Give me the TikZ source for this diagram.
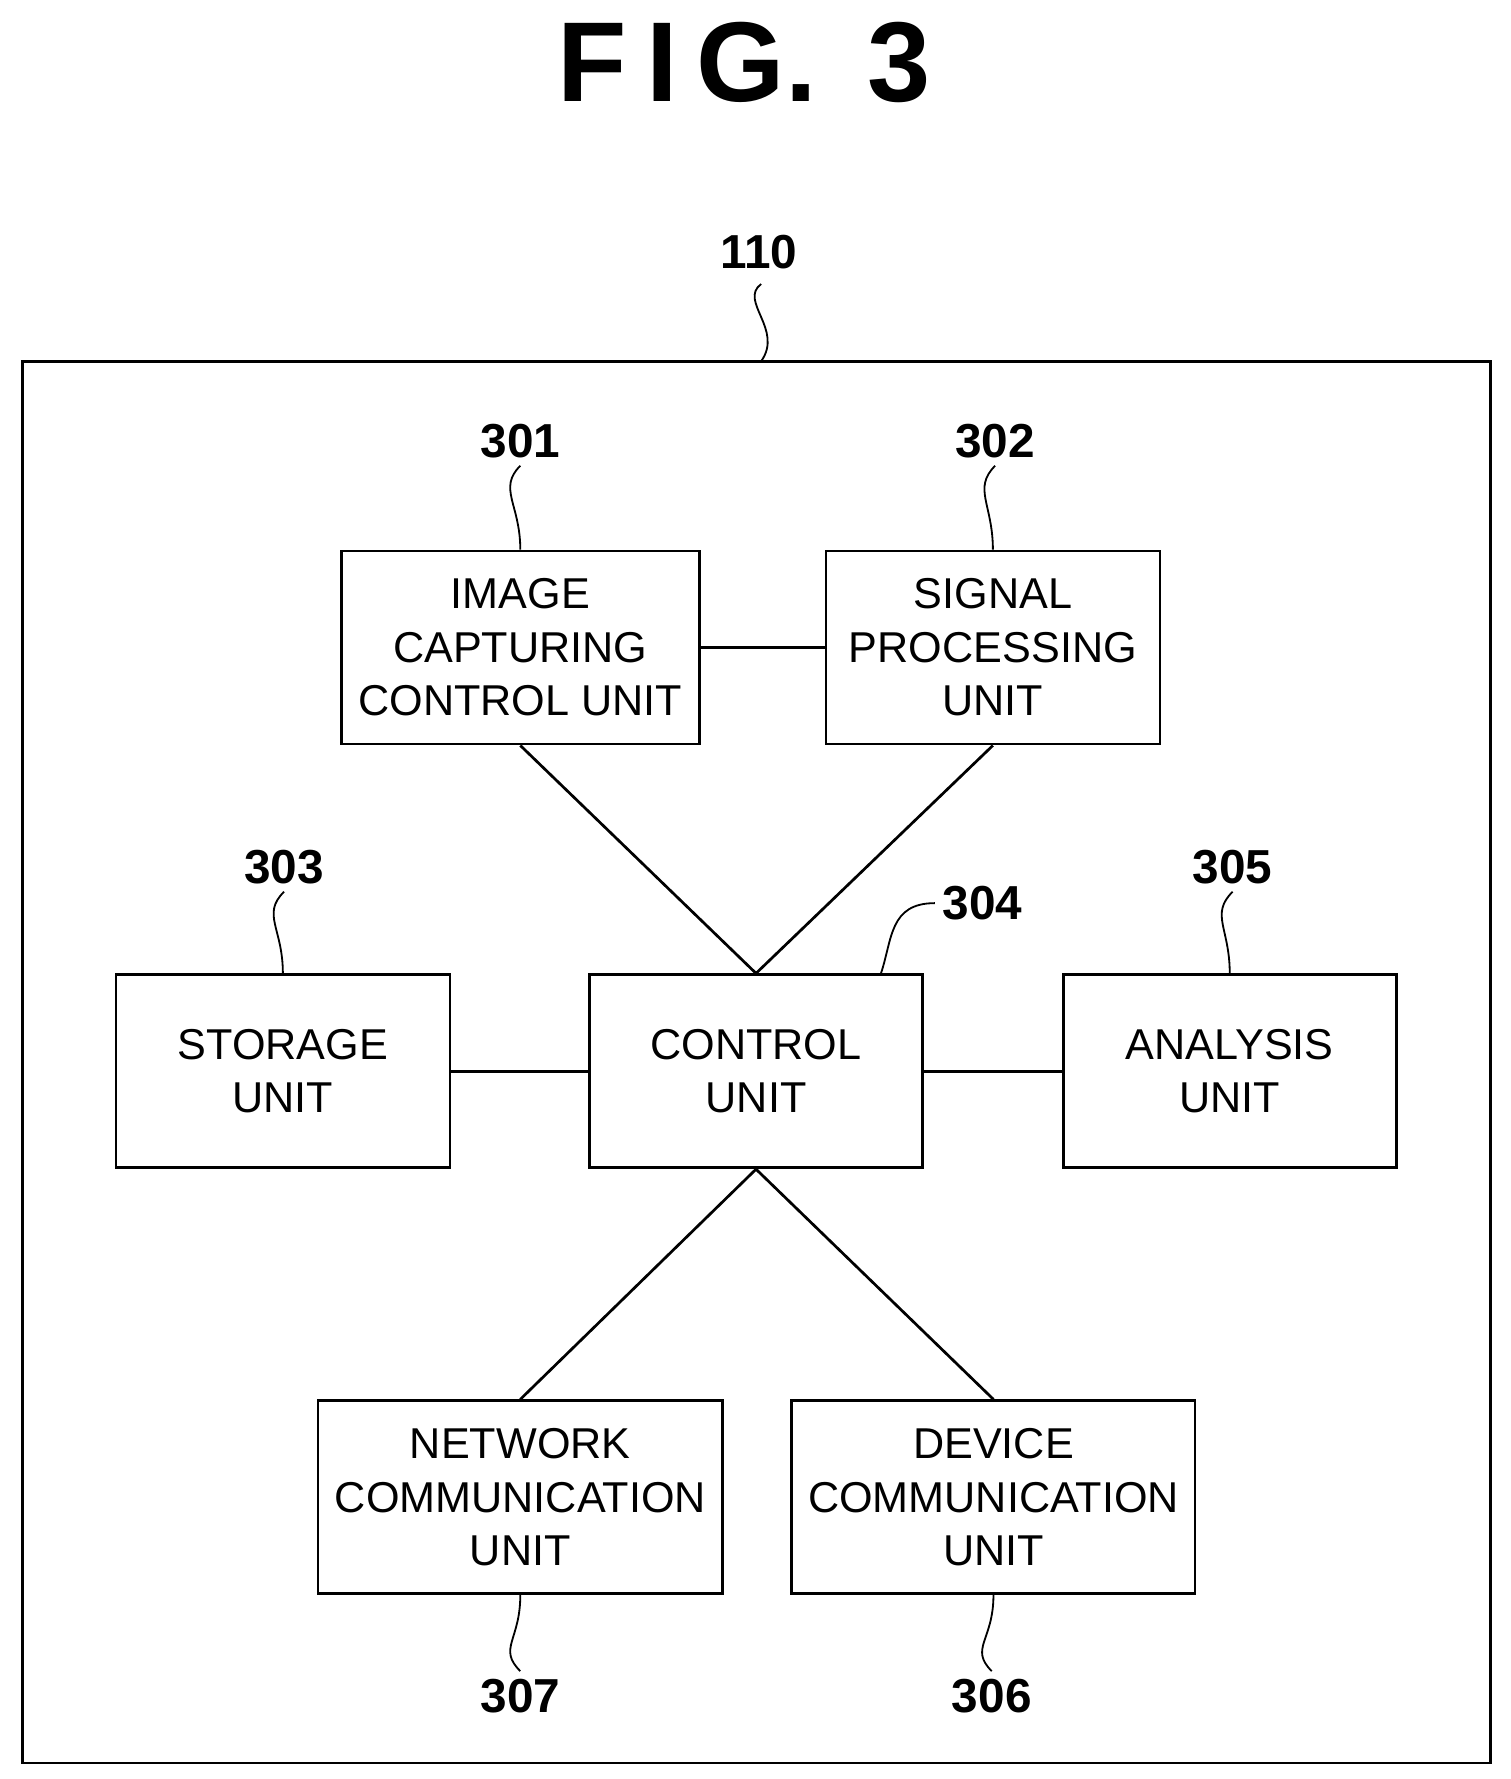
\documentclass[tikz,border=0pt]{standalone}
\usepackage{fontspec}
\setmainfont{Liberation Sans}
\begin{document}
\begin{tikzpicture}[
    x=0.5pt, y=-0.5pt,
    unit/.style={draw, line width=1.2pt, inner sep=0pt, align=center,
        font=\fontsize{19}{23.5}\selectfont},
    ref/.style={font=\bfseries\fontsize{21}{24}\selectfont},
    link/.style={line width=1.2pt},
    wave/.style={line width=0.8pt}]
    \useasboundingbox (0,0) rectangle (1330,1566);
    \node[font=\bfseries\fontsize{50}{56}\selectfont] (title) at (655,55) {F\,I\,G.\;\,3};
    % outer device
    \draw[line width=1.2pt] (20,318) rectangle (1312,1552);
    \node[ref] (r110) at (668,222) {110};
    \draw[wave] (670,250) .. controls (650,265) and (690,290) .. (670,318);
    % units
    \node[unit, minimum width=157.5pt, minimum height=85pt] (icu) at (458,570) {IMAGE\\CAPTURING\\CONTROL UNIT};
    \node[unit, minimum width=147pt, minimum height=85pt] (spu) at (874,570) {SIGNAL\\PROCESSING\\UNIT};
    \node[unit, minimum width=147pt, minimum height=85pt] (stu) at (249,943) {STORAGE\\UNIT};
    \node[unit, minimum width=146.5pt, minimum height=85pt] (ctu) at (665.5,943) {CONTROL\\UNIT};
    \node[unit, minimum width=146.5pt, minimum height=85pt] (anu) at (1082.5,943) {ANALYSIS\\UNIT};
    \node[unit, minimum width=178pt, minimum height=85pt] (ncu) at (458,1318) {NETWORK\\COMMUNICATION\\UNIT};
    \node[unit, minimum width=177.5pt, minimum height=85pt] (dcu) at (874.5,1318) {DEVICE\\COMMUNICATION\\UNIT};
    % reference numerals
    \node[ref] (r301) at (458,388) {301};
    \node[ref] (r302) at (876,388) {302};
    \node[ref] (r303) at (250,763) {303};
    \node[ref] (r304) at (865,795) {304};
    \node[ref] (r305) at (1085,763) {305};
    \node[ref] (r307) at (458,1493) {307};
    \node[ref] (r306) at (873,1493) {306};
    \draw[wave] (r301.south) .. controls +(-20,20) and +(0,-40) .. (icu.north);
    \draw[wave] (r302.south) .. controls +(-20,20) and +(0,-40) .. (spu.north);
    \draw[wave] (r303.south) .. controls +(-20,20) and +(0,-40) .. (stu.north);
    \draw[wave] (r305.south) .. controls +(-20,20) and +(0,-40) .. (anu.north);
    \draw[wave] (r304.west) .. controls +(-40,0) and +(10,-30) .. ([xshift=55pt]ctu.north);
    \draw[wave] (r307.north) .. controls +(-20,-20) and +(0,40) .. (ncu.south);
    \draw[wave] (r306.north) .. controls +(-20,-20) and +(0,40) .. (dcu.south);
    % connections
    \draw[link] (icu) -- (spu);
    \draw[link] (icu.south) -- (ctu.north);
    \draw[link] (spu.south) -- (ctu.north);
    \draw[link] (stu) -- (ctu);
    \draw[link] (ctu) -- (anu);
    \draw[link] (ctu.south) -- (ncu.north);
    \draw[link] (ctu.south) -- (dcu.north);
\end{tikzpicture}
\end{document}
